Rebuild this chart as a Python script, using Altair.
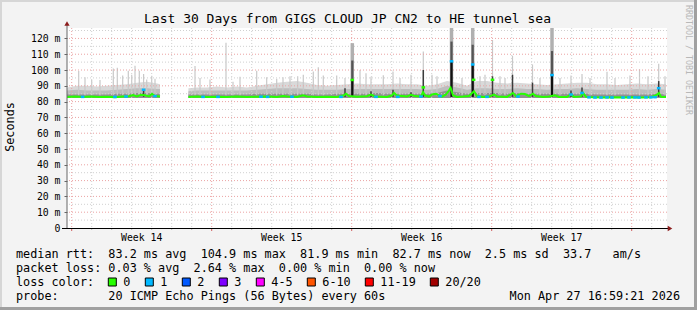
import altair as alt
import pandas as pd

MONO = "DejaVu Sans Mono"
W, H = 600, 200
LEFT, TOP = 67, 28
YMAX = 126.6
SMOKE_MIN = 82.3

# ---------------- data (days since start of 30-day window) ----------------
seg1_day = [0.0, 0.5, 1.0, 1.5, 2.0, 2.5, 3.0, 3.5, 4.0, 4.5, 4.65]
seg1_hi = [89, 90, 90, 89.5, 90, 90.5, 91, 92, 92.5, 91.5, 91]
seg1_mid = [87, 87.5, 87, 87, 87, 87.5, 88, 88.5, 88.5, 88, 88]
seg1_dark = [84.5, 84.5, 84.5, 84.5, 84.5, 85, 85, 85.5, 85.5, 85, 85]

seg2_day = [6.07, 6.5, 7.0, 7.5, 8.0, 8.5, 9.0, 9.5, 10.0, 10.5, 11.0, 11.5, 12.0, 12.5,
            13.0, 13.5, 14.0, 14.5, 15.0, 15.5, 16.0, 16.5, 17.0, 17.5, 18.0, 18.5, 19.0,
            19.5, 20.0, 20.5, 21.0, 21.5, 22.0, 22.5, 23.0, 23.5, 24.0, 24.5, 25.0, 25.5,
            26.0, 26.5, 27.0, 27.5, 28.0, 28.5, 29.0, 29.5, 29.95]
seg2_hi = [88.5, 89, 89, 89.5, 89, 89.5, 89, 90, 91, 92, 92.5, 93, 92, 90.5, 90, 90.5, 91,
           91.5, 91, 91, 91, 91.5, 91, 91, 90, 91, 93, 92, 90, 93, 93, 92, 91.5, 92, 91.5,
           91, 90.5, 91, 91.5, 92, 92, 91, 91, 90.5, 91, 91.5, 91, 91.5, 91]
seg2_mid = [86.5, 87, 87, 87, 87, 87, 87, 87.5, 88, 88.5, 88.5, 88.5, 88, 87.5, 87.5, 87.5,
            88, 88, 88, 88, 88, 88, 88, 88, 87.5, 88, 90, 89, 87.5, 88.5, 88.5, 88, 88,
            88.5, 88, 88, 87.5, 88, 88, 88.5, 88, 87.5, 87.5, 87.5, 87.5, 88, 87.5, 88, 87.5]
seg2_dark = [84.5, 84.5, 84.5, 84.5, 84.5, 84.5, 84.5, 85, 85, 85, 85, 85, 85, 84.5, 84.5,
             85, 85, 85, 85, 85.5, 85, 85, 85, 85, 85, 85.5, 87, 86, 85, 85.5, 85.5, 85.5,
             85, 85.5, 85, 85, 85, 85, 85, 85, 85, 84.5, 84.5, 84.5, 84.5, 84.5, 84.5, 85, 84.5]

med1_day = [0.0, 0.4, 0.8, 1.2, 1.6, 2.0, 2.4, 2.8, 3.1, 3.3, 3.5, 3.7, 3.9, 4.1, 4.25, 4.4, 4.65]
med1_val = [83.0, 83.3, 82.9, 83.2, 83.0, 83.1, 82.8, 83.2, 83.4, 84.2, 83.3, 84.3, 84.0, 83.3,
            85.0, 83.6, 83.2]
med2_day = [6.07, 6.5, 7.0, 7.5, 8.0, 8.5, 9.0, 9.5, 10.0, 10.5, 10.8, 11.0, 11.5, 11.8, 12.0,
            12.5, 13.0, 13.5, 13.85, 13.95, 14.1, 14.5, 15.0, 15.2, 15.4, 16.0, 16.25, 16.35,
            16.5, 17.0, 17.2, 17.4, 17.7, 17.8, 17.9, 18.1, 18.25, 18.45, 18.6, 18.75, 18.95,
            19.1, 19.18, 19.3, 19.5, 19.8, 20.1, 20.35, 20.5, 20.8, 21.1, 21.35, 21.5, 22.0,
            22.3, 22.45, 22.7, 22.9, 23.1, 23.3, 23.45, 23.8, 24.1, 24.4, 24.6, 25.0, 25.2,
            25.35, 25.7, 25.8, 25.95, 26.3, 26.8, 27.3, 27.8, 28.3, 28.7, 29.2, 29.45, 29.6,
            29.7, 29.95]
med2_val = [83.0, 83.2, 82.9, 83.1, 83.0, 83.2, 82.9, 83.1, 83.3, 83.0, 83.6, 83.2, 83.0, 84.0,
            83.2, 83.0, 83.1, 83.0, 84.0, 85.0, 83.5, 83.1, 83.4, 84.5, 83.3, 83.0, 84.0, 85.5,
            83.8, 83.3, 84.3, 83.5, 83.2, 86.0, 84.0, 83.2, 84.5, 85.0, 84.0, 83.2, 84.5, 87.0,
            88.7, 84.0, 83.0, 83.2, 83.5, 86.5, 83.5, 83.0, 83.2, 84.5, 83.3, 83.0, 85.5, 83.5,
            85.0, 84.8, 83.5, 85.0, 83.5, 83.0, 83.3, 84.0, 83.0, 83.0, 84.5, 83.0, 83.3, 85.5,
            83.0, 82.8, 82.6, 82.7, 82.6, 82.8, 82.6, 82.8, 84.0, 85.5, 83.0, 82.9]

spike_day = [0.585, 0.9, 1.235, 1.65, 2.315, 2.515, 2.785, 3.065, 3.235, 3.4, 3.615, 3.83,
             3.985, 4.235, 4.4,
             6.4, 6.65, 7.15, 7.95, 8.3, 8.65, 9.485, 9.985, 10.485, 10.8,
             11.15, 11.535, 11.815, 12.315, 12.565, 12.815, 13.485, 13.9, 14.65, 14.95,
             15.2, 15.815, 16.3, 16.65, 17.2, 17.815, 18.25, 18.5, 19.75, 20.65,
             20.9, 21.275, 21.65, 21.9, 22.275, 23.275, 23.65, 24.65, 25.2, 25.75,
             26.15, 27.0, 27.4, 28.15, 28.625, 29.05, 29.585, 29.9]
spike_top = [99.4, 95.4, 93.7, 93.7, 101, 101.4, 96.5, 99.6, 97, 102.7, 99.5, 97.5, 94, 96.3, 94.5,
             102.5, 95, 94, 117.3, 92.5, 95.8, 99.6, 95.5, 94.5, 95.5,
             96, 96, 97, 99, 101.7, 96.5, 96.5, 95, 100, 98,
             95.8, 96.7, 99, 95, 97, 111.7, 97, 96, 95, 96,
             97, 119, 96, 95, 109, 103.5, 95, 95, 96.5, 97.5,
             95, 98.9, 95, 96.5, 100.5, 96, 104, 96]
spike_dark = [0, 0, 0, 0, 0, 0, 0, 0, 0, 0, 0, 88, 0, 0, 0,
              0, 0, 0, 0, 0, 0, 0, 0, 0, 0,
              0, 0, 0, 0, 0, 0, 0, 88.4, 0, 0,
              86.5, 0, 87.5, 0, 86, 100, 0, 0, 0, 0,
              0, 96, 0, 0, 97, 92, 0, 0, 87, 89,
              0, 0, 0, 0, 0, 0, 93, 0]

peak_day = [14.265, 19.225, 20.285, 24.25]
peak_med = [93.7, 105.5, 103.5, 96.8]
peak_mid = [106, 118, 116, 112]
peak_top = [117, 126.6, 126.6, 126.6]

mk_day = [3.83, 14.265, 17.815, 19.225, 20.285, 20.33, 21.275, 24.25, 29.585,
          0.78, 2.4, 2.95, 4.4, 6.8, 7.55, 9.7, 10.03, 11.25, 13.7,
          15.45, 16.54, 17.7, 18.65, 20.6, 21.0, 22.55, 25.2, 25.75, 26.1,
          26.4, 26.7, 27.0, 27.25, 27.8, 28.1, 28.4, 28.6, 28.95, 29.2, 29.4]
mk_val = [87.5, 93.7, 89.0, 105.5, 103.5, 93.8, 93.8, 96.8, 88.5,
          83.0, 83.0, 83.2, 83.5, 83.0, 83.0, 83.1, 83.0, 83.1, 83.0,
          83.0, 83.0, 83.2, 83.5, 83.0, 83.0, 83.2, 84.5, 85.5, 82.7,
          82.6, 82.6, 82.7, 82.6, 82.6, 82.7, 82.7, 82.6, 82.7, 82.7, 82.8]
mk_loss = [1, 0, 0, 1, 1, 0, 0, 1, 1] + [1] * 31

loss_labels = ["0", "1", "2", "3", "4-5", "6-10", "11-19", "20/20"]
loss_colors = ["#26ff00", "#00b8ff", "#0059ff", "#7e00ff", "#ff00ff", "#ff5500", "#ff0000", "#a10000"]

y_ticks = list(range(0, 121, 10))
y_minor = list(range(5, 126, 10))
week_start = [0.235, 7.235, 14.235, 21.235, 28.235]
week_labels = ["Week 14", "Week 15", "Week 16", "Week 17"]
week_mid = [3.735, 10.735, 17.735, 24.735]
day_lines = [0.235 + k for k in range(30) if k % 7 != 0]

title = "Last 30 Days from GIGS CLOUD JP CN2 to HE tunnel sea"
line1 = "median rtt:  83.2 ms avg  104.9 ms max  81.9 ms min  82.7 ms now  2.5 ms sd  33.7   am/s"
line2 = "packet loss: 0.03 % avg  2.64 % max  0.00 % min  0.00 % now"
line3 = "loss color:"
line4 = "probe:       20 ICMP Echo Pings (56 Bytes) every 60s"
stamp = "Mon Apr 27 16:59:21 2026"
watermark = "RRDTOOL / TOBI OETIKER"

# ---------------- helpers ----------------
XS = alt.Scale(domain=[0, 30], nice=False, zero=False)
YS = alt.Scale(domain=[0, YMAX], nice=False, zero=True)
YAX = alt.Axis(values=y_ticks, labelExpr="datum.value == 0 ? '0' : datum.value + ' m'",
               title=None, grid=False, domain=False, ticks=True, tickSize=3,
               tickColor="#666666", labelPadding=4, labelFont=MONO, labelFontSize=9.8,
               labelColor="#000000")


def X(f):
    return alt.X(f, type="quantitative", scale=XS, axis=None)


def Y(f):
    return alt.Y(f, type="quantitative", scale=YS, axis=YAX)


ONE = pd.DataFrame({"a": [0]})


def txt(s, x, y, size=11.8, align="left", color="#000000", angle=0):
    return alt.Chart(ONE).mark_text(
        text=s.replace(" ", "\u00a0"), font=MONO, fontSize=size, align=align,
        baseline="middle", color=color, angle=angle
    ).encode(x=alt.value(x - LEFT), y=alt.value(y - TOP))


def box(x0, y0, x1, y1, fill, stroke=None):
    kw = dict(fill=fill)
    if stroke:
        kw.update(stroke=stroke, strokeWidth=1)
    return alt.Chart(ONE).mark_rect(**kw).encode(
        x=alt.value(x0 - LEFT), x2=alt.value(x1 - LEFT),
        y=alt.value(y0 - TOP), y2=alt.value(y1 - TOP))


def line(x0, y0, x1, y1, color, width=1):
    return alt.Chart(ONE).mark_rule(color=color, strokeWidth=width).encode(
        x=alt.value(x0 - LEFT), x2=alt.value(x1 - LEFT),
        y=alt.value(y0 - TOP), y2=alt.value(y1 - TOP))


# ---------------- data frames ----------------
band = pd.DataFrame({
    "day": seg1_day + seg2_day,
    "seg": [1] * len(seg1_day) + [2] * len(seg2_day),
    "hi": seg1_hi + seg2_hi,
    "mid": seg1_mid + seg2_mid,
    "dark": seg1_dark + seg2_dark,
})
med = pd.DataFrame({
    "day": med1_day + med2_day,
    "val": med1_val + med2_val,
    "seg": [1] * len(med1_day) + [2] * len(med2_day),
})
spk = pd.DataFrame({"day": spike_day, "top": spike_top, "dark": spike_dark})
pk = pd.DataFrame({"day": peak_day, "med": peak_med, "mid": peak_mid, "top": peak_top})
mk = pd.DataFrame({"day": mk_day, "val": mk_val,
                   "col": [loss_colors[i] for i in mk_loss]})

layers = []

# smoke bands
bb = alt.Chart(band).transform_calculate(lo=str(SMOKE_MIN))
for fld, col in [("hi", "#d9d9d9"), ("mid", "#bdbdbd"), ("dark", "#929292")]:
    layers.append(bb.mark_area(color=col, interpolate="linear").encode(
        x=X("day"), y=Y(fld), y2=alt.Y2("lo:Q"), detail="seg:N"))

# light spikes
layers.append(alt.Chart(spk).transform_calculate(base="84").mark_rule(
    color="#c8c8c8", strokeWidth=1.2).encode(x=X("day"), y=Y("top"), y2=alt.Y2("base:Q")))

# grid
gmin = pd.DataFrame({"v": y_minor})
gmaj = pd.DataFrame({"v": y_ticks[1:]})
layers.append(alt.Chart(gmin).mark_rule(color="#d0d0d0", strokeWidth=1, strokeDash=[1, 2]).encode(y=Y("v")))
layers.append(alt.Chart(pd.DataFrame({"d": day_lines})).mark_rule(
    color="#d0d0d0", strokeWidth=1, strokeDash=[1, 2]).encode(x=X("d")))
layers.append(alt.Chart(gmaj).mark_rule(color="#eba3a3", strokeWidth=1, strokeDash=[1, 2]).encode(y=Y("v")))
layers.append(alt.Chart(pd.DataFrame({"d": week_start})).mark_rule(
    color="#eba3a3", strokeWidth=1, strokeDash=[1, 2]).encode(x=X("d")))

# dark spikes
layers.append(alt.Chart(spk).transform_filter("datum.dark > 0").transform_calculate(
    base="83").mark_rule(color="#3c3c3c", strokeWidth=1.5).encode(
    x=X("day"), y=Y("dark"), y2=alt.Y2("base:Q")))

# big peaks
pkb = alt.Chart(pk).transform_calculate(base="83")
layers.append(pkb.mark_rule(color="#b0b0b0", strokeWidth=3.5).encode(
    x=X("day"), y=Y("top"), y2=alt.Y2("base:Q")))
layers.append(pkb.mark_rule(color="#555555", strokeWidth=2.2).encode(
    x=X("day"), y=Y("mid"), y2=alt.Y2("base:Q")))
layers.append(pkb.mark_rule(color="#111111", strokeWidth=2).encode(
    x=X("day"), y=Y("med"), y2=alt.Y2("base:Q")))

# x-axis small ticks
layers.append(alt.Chart(pd.DataFrame({"d": day_lines})).mark_rule(color="#bbbbbb").encode(
    x=X("d"), y=alt.value(H), y2=alt.value(H + 2)))
layers.append(alt.Chart(pd.DataFrame({"d": week_start})).mark_rule(color="#d06060").encode(
    x=X("d"), y=alt.value(H), y2=alt.value(H + 3)))

# median line and loss-coloured ticks
layers.append(alt.Chart(med).mark_line(color="#26ff00", strokeWidth=2).encode(
    x=X("day"), y=Y("val"), detail="seg:N"))
layers.append(alt.Chart(mk).transform_calculate(
    x0="datum.day - 0.09", x1="datum.day + 0.09").mark_rule(strokeWidth=2.5).encode(
    x=X("x0"), x2=alt.X2("x1:Q"), y=Y("val"), color=alt.Color("col:N", scale=None)))

# week labels
wk = pd.DataFrame({"d": week_mid, "label": week_labels})
layers.append(alt.Chart(wk).mark_text(font=MONO, fontSize=9.8, baseline="middle",
                                      color="#000000").encode(
    x=X("d"), y=alt.value(237.7 - TOP), text="label:N"))

# axes lines and arrows
layers.append(line(67, 228, 67, 23, "#666666", 1))
layers.append(line(62, 228.5, 668, 228.5, "#000000", 1))
layers.append(alt.Chart(ONE).mark_point(shape="triangle-up", filled=True, size=28,
                                        color="#8b1c1c", opacity=1).encode(
    x=alt.value(0), y=alt.value(23.5 - TOP)))
layers.append(alt.Chart(ONE).mark_point(shape="triangle-right", filled=True, size=28,
                                        color="#8b1c1c", opacity=1).encode(
    x=alt.value(670 - LEFT), y=alt.value(228.5 - TOP)))

# texts
layers.append(txt(title, 347.5, 19, size=13, align="center"))
layers.append(txt("Seconds", 10, 127, size=11.8, align="center", angle=270))
layers.append(txt(watermark, 688, 60, size=8.3, align="center", color="#b8b8b8", angle=90))
layers.append(txt(line1, 16, 254.3))
layers.append(txt(line2, 16, 268.3))
layers.append(txt(line3, 16, 282.3))
layers.append(txt(line4, 16, 296.2))
layers.append(txt(stamp, 680, 296.2, align="right"))

bx = 108.3
for lab, col in zip(loss_labels, loss_colors):
    layers.append(box(bx, 278, bx + 8, 286, col, stroke="#000000"))
    layers.append(txt(lab, bx + 15, 282.3))
    bx += 37.0 + 7.0 * (len(lab) - 1)

# frame
layers.append(box(0, 0, 697, 2, "#d6d6d6"))
layers.append(box(0, 0, 2, 310, "#d6d6d6"))
layers.append(box(694, 0, 697, 310, "#a0a0a0"))
layers.append(box(0, 307, 697, 310, "#a0a0a0"))

chart = alt.layer(*layers).properties(
    width=W, height=H,
    autosize=alt.AutoSizeParams(type="none"),
    padding={"left": LEFT, "top": TOP, "right": 697 - LEFT - W, "bottom": 310 - TOP - H},
    background="#f3f3f3",
).configure_view(fill="white", strokeWidth=0)

chart.save("out.html", embed_options={"renderer": "svg", "actions": False})
